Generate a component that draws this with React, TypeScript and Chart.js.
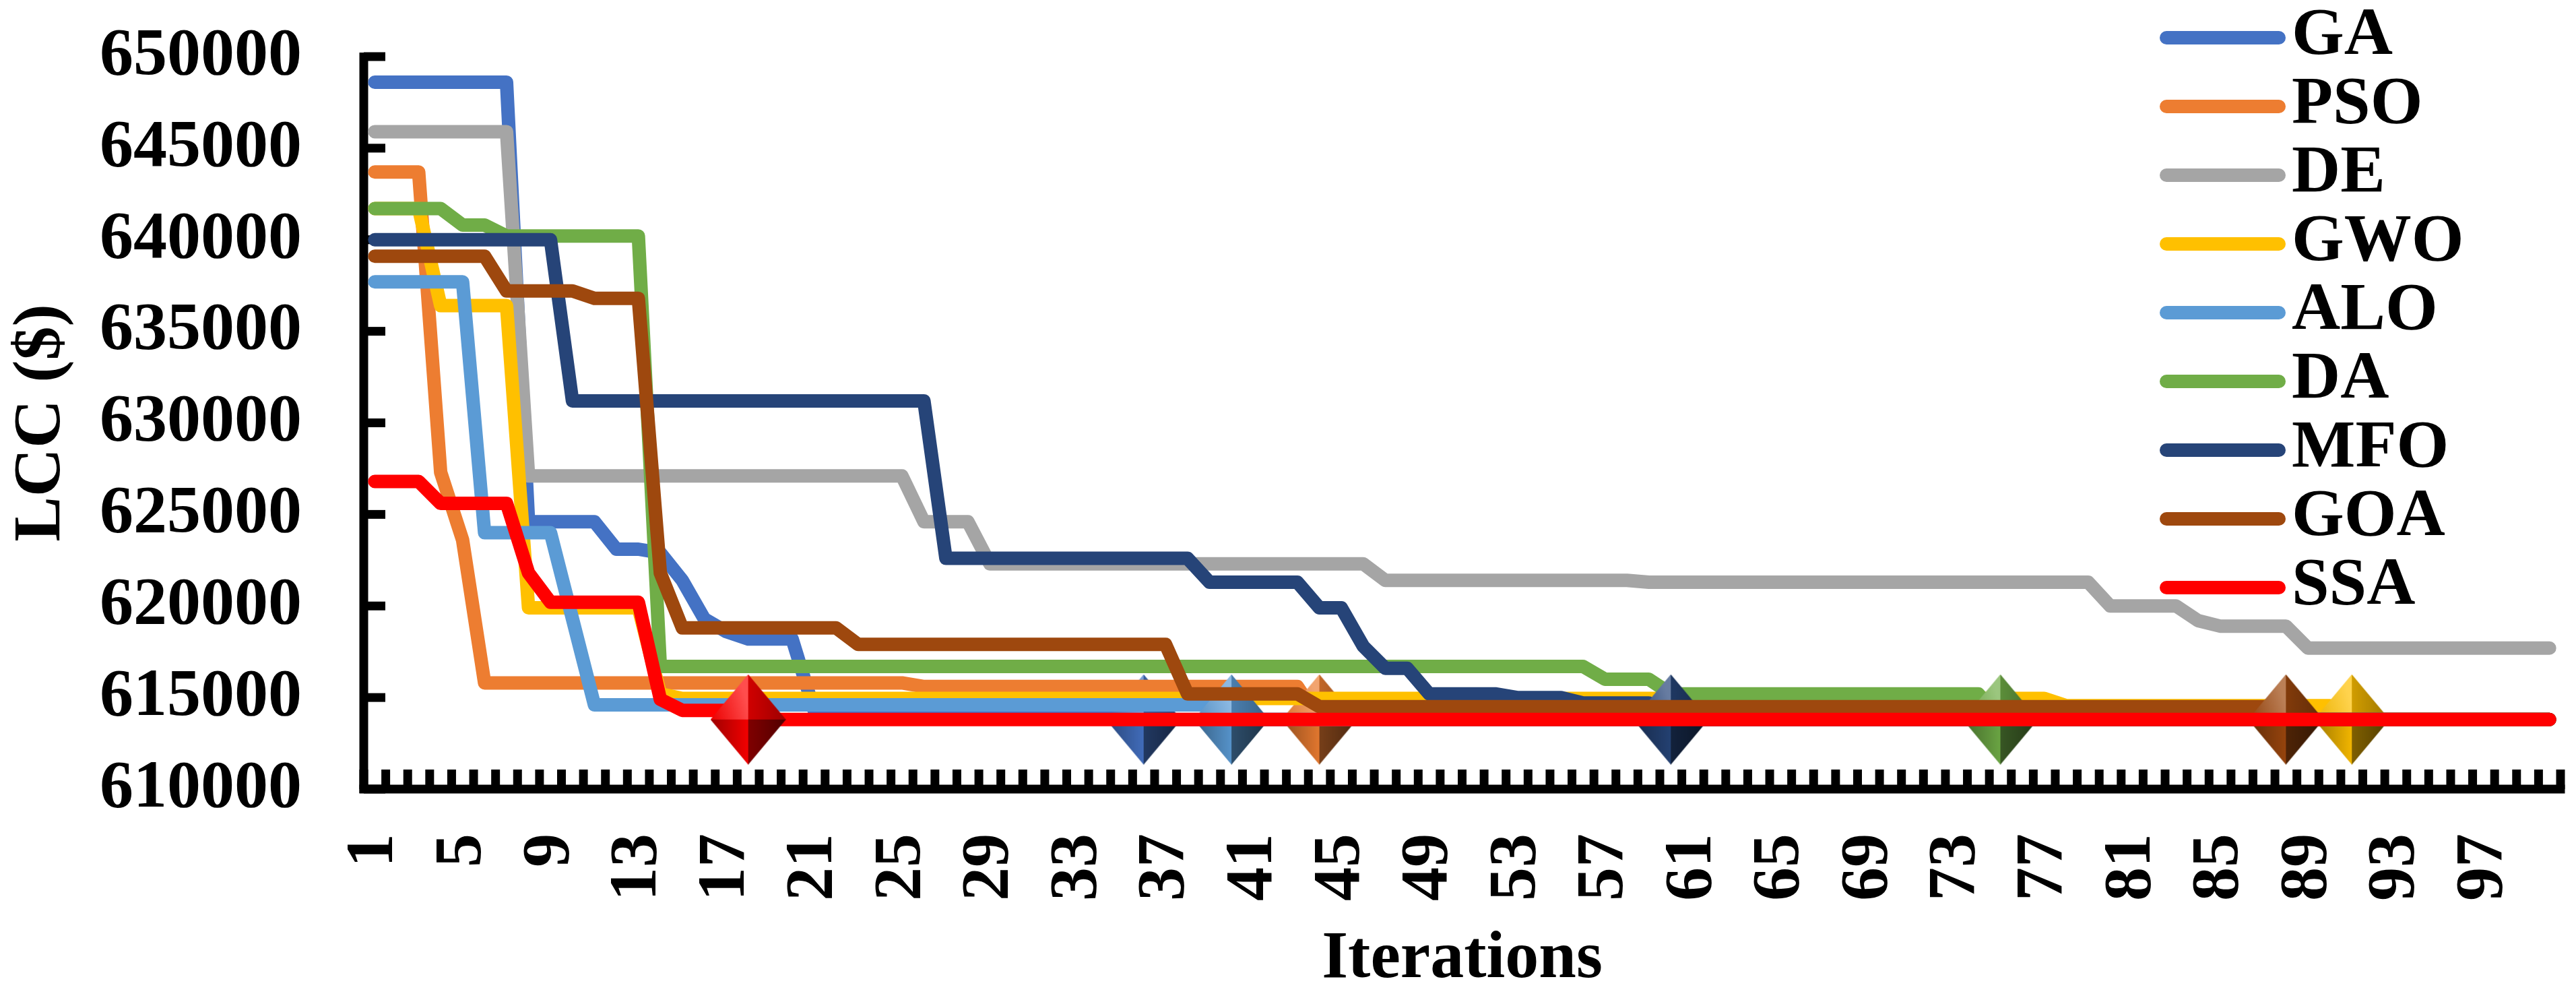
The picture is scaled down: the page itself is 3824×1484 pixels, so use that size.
import React, { useEffect, useRef } from 'react';
import { Chart, registerables } from 'chart.js';

Chart.register(...registerables);

// ---------------- data ----------------
const iterations = [
  1, 2, 3, 4, 5, 6, 7, 8, 9, 10,
  11, 12, 13, 14, 15, 16, 17, 18, 19, 20,
  21, 22, 23, 24, 25, 26, 27, 28, 29, 30,
  31, 32, 33, 34, 35, 36, 37, 38, 39, 40,
  41, 42, 43, 44, 45, 46, 47, 48, 49, 50,
  51, 52, 53, 54, 55, 56, 57, 58, 59, 60,
  61, 62, 63, 64, 65, 66, 67, 68, 69, 70,
  71, 72, 73, 74, 75, 76, 77, 78, 79, 80,
  81, 82, 83, 84, 85, 86, 87, 88, 89, 90,
  91, 92, 93, 94, 95, 96, 97, 98, 99, 100,
];

const shownTickLabels = [1, 5, 9, 13, 17, 21, 25, 29, 33, 37, 41, 45, 49, 53, 57, 61, 65, 69, 73, 77, 81, 85, 89, 93, 97];

const yMin = 610000;
const yMax = 650000;
const yStep = 5000;

const seriesNames = ['GA', 'PSO', 'DE', 'GWO', 'ALO', 'DA', 'MFO', 'GOA', 'SSA'];
const seriesColors = ['#4472C4', '#ED7D31', '#A5A5A5', '#FFC000', '#5B9BD5', '#70AD47', '#264478', '#9E480E', '#FF0000'];
// iteration at which each algorithm is marked with a diamond (null = no marker)
const markerIterations = [36, 44, null, 91, 40, 75, 60, 88, 18];

const GA = [
  648600, 648600, 648600, 648600, 648600, 648600, 648600, 624600, 624600, 624600,
  624600, 623100, 623100, 622900, 621400, 619300, 618600, 618200, 618200, 618200,
  614300, 614300, 614300, 614300, 614300, 614300, 614300, 614300, 614300, 614300,
  614300, 614300, 614300, 614300, 614300, 613800, 613800, 613800, 613800, 613800,
  613800, 613800, 613800, 613800, 613800, 613800, 613800, 613800, 613800, 613800,
  613800, 613800, 613800, 613800, 613800, 613800, 613800, 613800, 613800, 613800,
  613800, 613800, 613800, 613800, 613800, 613800, 613800, 613800, 613800, 613800,
  613800, 613800, 613800, 613800, 613800, 613800, 613800, 613800, 613800, 613800,
  613800, 613800, 613800, 613800, 613800, 613800, 613800, 613800, 613800, 613800,
  613800, 613800, 613800, 613800, 613800, 613800, 613800, 613800, 613800, 613800,
];

const PSO = [
  643700, 643700, 643700, 627300, 623600, 615800, 615800, 615800, 615800, 615800,
  615800, 615800, 615800, 615800, 615800, 615800, 615800, 615800, 615800, 615800,
  615800, 615800, 615800, 615800, 615800, 615600, 615600, 615600, 615600, 615600,
  615600, 615600, 615600, 615600, 615600, 615600, 615600, 615600, 615600, 615600,
  615600, 615600, 615600, 613800, 613800, 613800, 613800, 613800, 613800, 613800,
  613800, 613800, 613800, 613800, 613800, 613800, 613800, 613800, 613800, 613800,
  613800, 613800, 613800, 613800, 613800, 613800, 613800, 613800, 613800, 613800,
  613800, 613800, 613800, 613800, 613800, 613800, 613800, 613800, 613800, 613800,
  613800, 613800, 613800, 613800, 613800, 613800, 613800, 613800, 613800, 613800,
  613800, 613800, 613800, 613800, 613800, 613800, 613800, 613800, 613800, 613800,
];

const DE = [
  645900, 645900, 645900, 645900, 645900, 645900, 645900, 627100, 627100, 627100,
  627100, 627100, 627100, 627100, 627100, 627100, 627100, 627100, 627100, 627100,
  627100, 627100, 627100, 627100, 627100, 624600, 624600, 624600, 622300, 622300,
  622300, 622300, 622300, 622300, 622300, 622300, 622300, 622300, 622300, 622300,
  622300, 622300, 622300, 622300, 622300, 622300, 621400, 621400, 621400, 621400,
  621400, 621400, 621400, 621400, 621400, 621400, 621400, 621400, 621300, 621300,
  621300, 621300, 621300, 621300, 621300, 621300, 621300, 621300, 621300, 621300,
  621300, 621300, 621300, 621300, 621300, 621300, 621300, 621300, 621300, 620000,
  620000, 620000, 620000, 619200, 618900, 618900, 618900, 618900, 617700, 617700,
  617700, 617700, 617700, 617700, 617700, 617700, 617700, 617700, 617700, 617700,
];

const GWO = [
  641700, 641700, 641700, 636400, 636400, 636400, 636400, 619900, 619900, 619900,
  619900, 619900, 619900, 615200, 614950, 614950, 614950, 614950, 614950, 614950,
  614950, 614950, 614950, 614950, 614950, 614950, 614950, 614950, 614950, 614950,
  614950, 614950, 614950, 614950, 614950, 614950, 614950, 614950, 614950, 614950,
  614950, 614950, 614950, 614950, 614950, 614950, 614950, 614950, 614950, 614950,
  614950, 614950, 614950, 614950, 614950, 614950, 614950, 614950, 614950, 614950,
  614950, 614950, 614950, 614950, 614950, 614950, 614950, 614950, 614950, 614950,
  614950, 614950, 614950, 614950, 614950, 614950, 614950, 614550, 614550, 614550,
  614550, 614550, 614550, 614550, 614550, 614550, 614550, 614550, 614550, 614550,
  613800, 613800, 613800, 613800, 613800, 613800, 613800, 613800, 613800, 613800,
];

const ALO = [
  637700, 637700, 637700, 637700, 637700, 624000, 624000, 624000, 624000, 619300,
  614600, 614600, 614600, 614600, 614600, 614600, 614600, 614600, 614600, 614600,
  614600, 614600, 614600, 614600, 614600, 614600, 614600, 614600, 614600, 614600,
  614600, 614600, 614600, 614600, 614600, 614600, 614600, 614600, 614600, 613800,
  613800, 613800, 613800, 613800, 613800, 613800, 613800, 613800, 613800, 613800,
  613800, 613800, 613800, 613800, 613800, 613800, 613800, 613800, 613800, 613800,
  613800, 613800, 613800, 613800, 613800, 613800, 613800, 613800, 613800, 613800,
  613800, 613800, 613800, 613800, 613800, 613800, 613800, 613800, 613800, 613800,
  613800, 613800, 613800, 613800, 613800, 613800, 613800, 613800, 613800, 613800,
  613800, 613800, 613800, 613800, 613800, 613800, 613800, 613800, 613800, 613800,
];

const DA = [
  641700, 641700, 641700, 641700, 640800, 640800, 640200, 640200, 640200, 640200,
  640200, 640200, 640200, 616700, 616700, 616700, 616700, 616700, 616700, 616700,
  616700, 616700, 616700, 616700, 616700, 616700, 616700, 616700, 616700, 616700,
  616700, 616700, 616700, 616700, 616700, 616700, 616700, 616700, 616700, 616700,
  616700, 616700, 616700, 616700, 616700, 616700, 616700, 616700, 616700, 616700,
  616700, 616700, 616700, 616700, 616700, 616700, 616000, 616000, 616000, 615200,
  615200, 615200, 615200, 615200, 615200, 615200, 615200, 615200, 615200, 615200,
  615200, 615200, 615200, 615200, 613800, 613800, 613800, 613800, 613800, 613800,
  613800, 613800, 613800, 613800, 613800, 613800, 613800, 613800, 613800, 613800,
  613800, 613800, 613800, 613800, 613800, 613800, 613800, 613800, 613800, 613800,
];

const MFO = [
  640000, 640000, 640000, 640000, 640000, 640000, 640000, 640000, 640000, 631200,
  631200, 631200, 631200, 631200, 631200, 631200, 631200, 631200, 631200, 631200,
  631200, 631200, 631200, 631200, 631200, 631200, 622600, 622600, 622600, 622600,
  622600, 622600, 622600, 622600, 622600, 622600, 622600, 622600, 621300, 621300,
  621300, 621300, 621300, 619900, 619900, 617800, 616600, 616600, 615200, 615200,
  615200, 615200, 615000, 615000, 615000, 614700, 614700, 614700, 614700, 613800,
  613800, 613800, 613800, 613800, 613800, 613800, 613800, 613800, 613800, 613800,
  613800, 613800, 613800, 613800, 613800, 613800, 613800, 613800, 613800, 613800,
  613800, 613800, 613800, 613800, 613800, 613800, 613800, 613800, 613800, 613800,
  613800, 613800, 613800, 613800, 613800, 613800, 613800, 613800, 613800, 613800,
];

const GOA = [
  639100, 639100, 639100, 639100, 639100, 639100, 637200, 637200, 637200, 637200,
  636800, 636800, 636800, 621800, 618800, 618800, 618800, 618800, 618800, 618800,
  618800, 618800, 617900, 617900, 617900, 617900, 617900, 617900, 617900, 617900,
  617900, 617900, 617900, 617900, 617900, 617900, 617900, 615200, 615200, 615200,
  615200, 615200, 615200, 614500, 614500, 614500, 614500, 614500, 614500, 614500,
  614500, 614500, 614500, 614500, 614500, 614500, 614500, 614500, 614500, 614500,
  614500, 614500, 614500, 614500, 614500, 614500, 614500, 614500, 614500, 614500,
  614500, 614500, 614500, 614500, 614500, 614500, 614500, 614500, 614500, 614500,
  614500, 614500, 614500, 614500, 614500, 614500, 614500, 613800, 613800, 613800,
  613800, 613800, 613800, 613800, 613800, 613800, 613800, 613800, 613800, 613800,
];

const SSA = [
  626800, 626800, 626800, 625600, 625600, 625600, 625600, 621800, 620200, 620200,
  620200, 620200, 620200, 614900, 614300, 614300, 614300, 613800, 613800, 613800,
  613800, 613800, 613800, 613800, 613800, 613800, 613800, 613800, 613800, 613800,
  613800, 613800, 613800, 613800, 613800, 613800, 613800, 613800, 613800, 613800,
  613800, 613800, 613800, 613800, 613800, 613800, 613800, 613800, 613800, 613800,
  613800, 613800, 613800, 613800, 613800, 613800, 613800, 613800, 613800, 613800,
  613800, 613800, 613800, 613800, 613800, 613800, 613800, 613800, 613800, 613800,
  613800, 613800, 613800, 613800, 613800, 613800, 613800, 613800, 613800, 613800,
  613800, 613800, 613800, 613800, 613800, 613800, 613800, 613800, 613800, 613800,
  613800, 613800, 613800, 613800, 613800, 613800, 613800, 613800, 613800, 613800,
];

// ---------------- helpers ----------------
const FONT_FAMILY = '"Liberation Serif", "Times New Roman", Times, serif';

function rgbOf(hex: string) {
  return [parseInt(hex.slice(1, 3), 16), parseInt(hex.slice(3, 5), 16), parseInt(hex.slice(5, 7), 16)];
}

function shade(hex: string, f: number) {
  const [r, g, b] = rgbOf(hex);
  let out: number[];
  if (f <= 1) out = [r * f, g * f, b * f];
  else {
    const t = f - 1;
    out = [r + (255 - r) * t, g + (255 - g) * t, b + (255 - b) * t];
  }
  return `rgb(${Math.round(out[0])},${Math.round(out[1])},${Math.round(out[2])})`;
}

function makeDiamond(hex: string) {
  const W = 112;
  const H = 134;
  const c = document.createElement('canvas');
  c.width = W;
  c.height = H;
  const g = c.getContext('2d') as CanvasRenderingContext2D;
  const cx = W / 2;
  const cy = H / 2;
  const T: [number, number] = [cx, 0];
  const R: [number, number] = [W, cy];
  const B: [number, number] = [cx, H];
  const L: [number, number] = [0, cy];
  const C: [number, number] = [cx, cy];
  const tri = (p1: [number, number], p2: [number, number], p3: [number, number], fill: any) => {
    g.beginPath();
    g.moveTo(p1[0], p1[1]);
    g.lineTo(p2[0], p2[1]);
    g.lineTo(p3[0], p3[1]);
    g.closePath();
    g.fillStyle = fill;
    g.fill();
  };
  let gr = g.createLinearGradient(0, cy, cx, cy * 0.75);
  gr.addColorStop(0, shade(hex, 0.92));
  gr.addColorStop(1, shade(hex, 1.3));
  tri(T, L, C, gr);
  gr = g.createLinearGradient(cx, cy, W, cy);
  gr.addColorStop(0, shade(hex, 0.82));
  gr.addColorStop(1, shade(hex, 0.62));
  tri(T, R, C, gr);
  gr = g.createLinearGradient(0, cy, cx, cy);
  gr.addColorStop(0, shade(hex, 0.62));
  gr.addColorStop(1, shade(hex, 0.95));
  tri(L, B, C, gr);
  gr = g.createLinearGradient(cx, cy, W, cy);
  gr.addColorStop(0, shade(hex, 0.5));
  gr.addColorStop(1, shade(hex, 0.32));
  tri(R, B, C, gr);
  return c;
}

const excelAxes = {
  id: 'excelAxes',
  beforeDatasetsDraw(chart: any) {
    const { ctx, chartArea: a, scales } = chart;
    const x = scales.x;
    const y = scales.y;
    ctx.save();
    ctx.fillStyle = '#000';
    // axis lines
    ctx.fillRect(a.left - 6.5, a.top - 6, 13, a.bottom - a.top + 12);
    ctx.fillRect(a.left - 6.5, a.bottom - 6.5, a.right - a.left + 13, 13);
    // y tick marks (inside)
    y.ticks.forEach((t: any) => {
      const py = y.getPixelForValue(t.value);
      ctx.fillRect(a.left, py - 6.5, 32, 13);
    });
    // x tick marks at category boundaries (inside)
    for (let i = 0; i <= iterations.length; i++) {
      const px = x.getPixelForValue(i - 0.5);
      ctx.fillRect(px - 6.5, a.bottom - 29, 13, 29);
    }
    ctx.restore();
  },
  afterDraw(chart: any) {
    const { ctx } = chart;
    const lineX1 = 3216;
    const lineX2 = 3383;
    const textX = 3402;
    const y0 = 56;
    const dy = 102;
    ctx.save();
    ctx.font = `bold 100px ${FONT_FAMILY}`;
    ctx.textAlign = 'left';
    ctx.textBaseline = 'middle';
    chart.data.datasets.forEach((ds: any, i: number) => {
      const yy = y0 + i * dy;
      ctx.strokeStyle = ds.borderColor;
      ctx.lineWidth = 20;
      ctx.lineCap = 'round';
      ctx.beginPath();
      ctx.moveTo(lineX1, yy);
      ctx.lineTo(lineX2, yy);
      ctx.stroke();
      ctx.fillStyle = '#000';
      ctx.fillText(ds.label, textX, yy - 2);
    });
    ctx.restore();
  },
};

export default function App() {
  const canvasRef = useRef<HTMLCanvasElement | null>(null);

  useEffect(() => {
    const canvas = canvasRef.current;
    if (!canvas) return;
    const series = [GA, PSO, DE, GWO, ALO, DA, MFO, GOA, SSA];
    const datasets = series.map((data, i) => {
      const mk = markerIterations[i];
      const img = mk ? makeDiamond(seriesColors[i]) : null;
      return {
        label: seriesNames[i],
        data,
        borderColor: seriesColors[i],
        backgroundColor: seriesColors[i],
        borderWidth: 20,
        borderCapStyle: 'round',
        borderJoinStyle: 'round',
        tension: 0,
        fill: false,
        pointRadius: iterations.map((it) => (mk !== null && it === mk ? 55 : 0)),
        pointHoverRadius: 0,
        pointStyle: img || 'circle',
        order: series.length - 1 - i,
      };
    });

    const tickFont = { family: FONT_FAMILY, size: 100, weight: 'bold' as const };

    const chart = new Chart(canvas, {
      type: 'line',
      data: { labels: iterations, datasets: datasets as any },
      plugins: [excelAxes],
      options: {
        responsive: false,
        maintainAspectRatio: false,
        devicePixelRatio: 1,
        animation: false,
        events: [],
        layout: { autoPadding: false, padding: { top: 84, right: 23, bottom: 0, left: 0 } },
        plugins: { legend: { display: false }, tooltip: { enabled: false } },
        scales: {
          x: {
            type: 'category',
            offset: true,
            grid: { display: false, drawTicks: false },
            border: { display: false },
            ticks: {
              autoSkip: false,
              minRotation: 90,
              maxRotation: 90,
              padding: 66,
              color: '#000',
              font: tickFont,
              callback: (_v: any, idx: number) =>
                shownTickLabels.includes(iterations[idx]) ? String(iterations[idx]) : '',
            },
            title: {
              display: true,
              text: 'Iterations',
              color: '#000',
              font: tickFont,
              padding: { top: 0, bottom: 0 },
            },
            afterFit: (s: any) => {
              s.height = 313;
              s.paddingLeft = 0;
              s.paddingRight = 0;
            },
          },
          y: {
            min: yMin,
            max: yMax,
            grid: { display: false, drawTicks: false },
            border: { display: false },
            ticks: {
              stepSize: yStep,
              padding: 92,
              color: '#000',
              font: tickFont,
              callback: (v: any) => String(v),
            },
            title: {
              display: true,
              text: 'LCC ($)',
              color: '#000',
              font: tickFont,
              padding: { top: 2, bottom: 0 },
            },
            afterFit: (s: any) => {
              s.width = 540;
              s.paddingTop = 0;
              s.paddingBottom = 0;
            },
          },
        },
      } as any,
    });
    return () => chart.destroy();
  }, []);

  return (
    <div style={{ position: 'absolute', left: 0, top: 0, width: 3824, height: 1484, background: '#fff' }}>
      <canvas ref={canvasRef} width={3824} height={1484} style={{ display: 'block', width: 3824, height: 1484 }} />
    </div>
  );
}
